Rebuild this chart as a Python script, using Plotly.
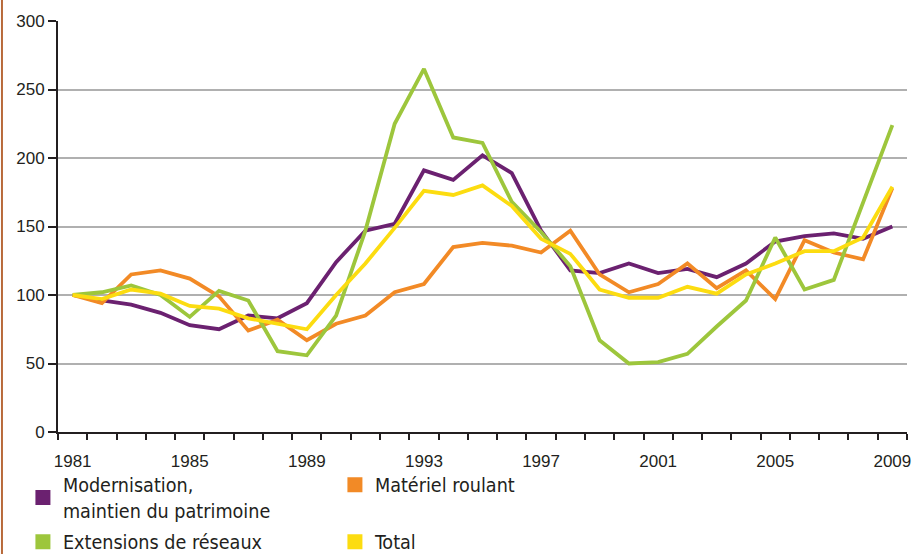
import plotly.graph_objects as go

years = list(range(1981, 2010))
modernisation = [100, 96, 93, 87, 78, 75, 85, 83, 94, 124, 147, 152, 191, 184, 202, 189, 147, 118, 116,
                 123, 116, 119, 113, 123, 139, 143, 145, 141, 150]
materiel = [100, 94, 115, 118, 112, 99, 74, 82, 67, 79, 85, 102, 108, 135, 138, 136, 131, 147, 115,
            102, 108, 123, 105, 118, 97, 140, 131, 126, 178]
extensions = [100, 102, 107, 100, 84, 103, 96, 59, 56, 85, 147, 225, 265, 215, 211, 168, 146, 121, 67,
              50, 51, 57, 77, 96, 142, 104, 111, 168, 224]
total = [100, 97, 104, 101, 92, 90, 83, 79, 75, 100, 123, 149, 176, 173, 180, 165, 141, 130, 104,
         98, 98, 106, 101, 115, 123, 132, 132, 142, 179]

names = ["Modernisation,<br>maintien du patrimoine", "Matériel roulant", "Extensions de réseaux", "Total"]
colors = ["#6b2170", "#f28a26", "#9dc63c", "#fcdc10"]
legend_ids = ["legend", "legend", "legend2", "legend2"]
series = [modernisation, materiel, extensions, total]
x_labels = [1981, 1985, 1989, 1993, 1997, 2001, 2005, 2009]
y_ticks = [0, 50, 100, 150, 200, 250, 300]

TICK_FONT = "Liberation Sans, Arial, sans-serif"
LEG_FONT = "DejaVu Sans Condensed, DejaVu Sans, sans-serif"
TXT = "#231f20"

fig = go.Figure()
for vals, col in zip(series, colors):
    fig.add_trace(go.Scatter(x=years, y=vals, mode="lines", line=dict(color=col, width=3.8),
                             showlegend=False, hoverinfo="skip"))
for name, col, lg in zip(names, colors, legend_ids):
    fig.add_trace(go.Scatter(x=[None], y=[None], mode="markers", name=name, legend=lg,
                             marker=dict(symbol="square", size=15, color=col)))

leg_common = dict(orientation="h", xref="container", yref="container", x=0.025, xanchor="left",
                  yanchor="middle", entrywidth=267, entrywidthmode="pixels",
                  font=dict(family=LEG_FONT, size=19.6, color=TXT),
                  itemclick=False, bgcolor="rgba(0,0,0,0)")

fig.update_layout(
    width=917, height=554,
    margin=dict(l=57.5, r=10, t=21, b=122, autoexpand=False),
    plot_bgcolor="white", paper_bgcolor="white",
    font=dict(family=TICK_FONT, color=TXT, size=17),
    xaxis=dict(range=[1980.5, 2009.5], tickvals=x_labels, ticks="", showgrid=False,
               showline=True, linecolor=TXT, linewidth=2, zeroline=False, automargin=False,
               ticklabelstandoff=13, tickfont=dict(family=TICK_FONT, size=17, color=TXT),
               minor=dict(tick0=1980.5, dtick=1, ticks="outside", ticklen=6, tickcolor=TXT,
                          tickwidth=1.5, showgrid=False)),
    yaxis=dict(range=[0, 300], tickvals=y_ticks, ticks="outside", ticklen=8, tickwidth=1.5,
               tickcolor=TXT, showline=True, linecolor=TXT, linewidth=2, automargin=False,
               showgrid=True, gridcolor="#b0b0b0", gridwidth=1.5, zeroline=False,
               tickfont=dict(family=TICK_FONT, size=17, color=TXT)),
    legend=dict(leg_common, y=1 - 497.5 / 554),
    legend2=dict(leg_common, y=1 - 542 / 554),
    shapes=[dict(type="line", xref="paper", yref="paper", x0=-0.066, x1=-0.066, y0=-0.3, y1=1.06,
                 line=dict(color="#b8693a", width=2))],
)

fig.write_html("out.html", config={"displayModeBar": False},
               post_script="document.body.style.margin='0';")
